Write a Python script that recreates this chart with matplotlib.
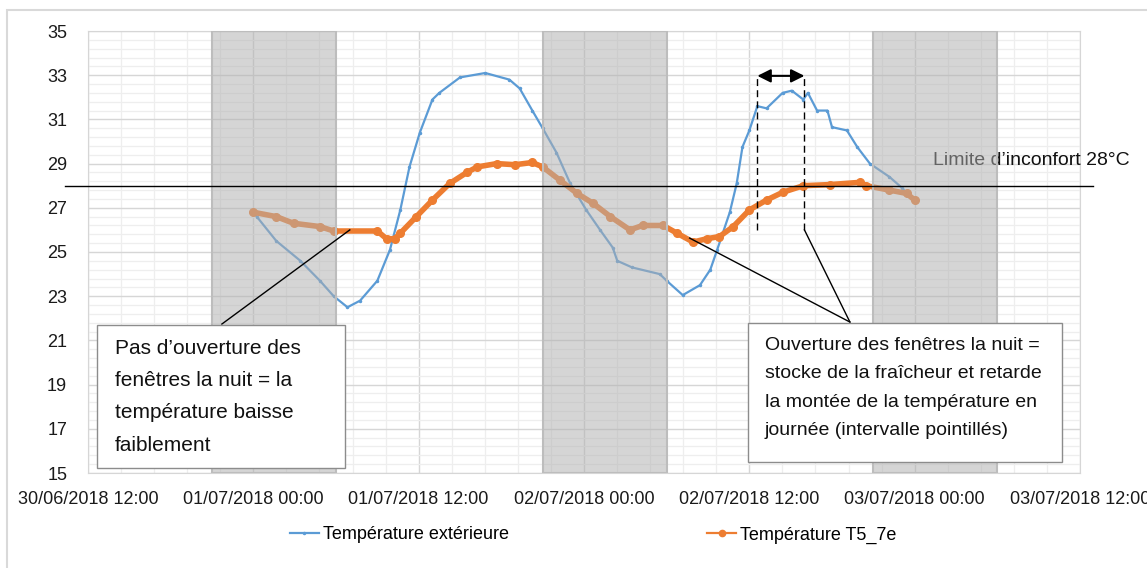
import matplotlib
matplotlib.use('Agg')
import matplotlib.pyplot as plt
import matplotlib.dates as mdates
import matplotlib.transforms as mtrans
import pandas as pd
from matplotlib.lines import Line2D
from matplotlib.patches import Rectangle
from matplotlib.ticker import MultipleLocator

plt.rcParams['font.family'] = ['Liberation Sans', 'DejaVu Sans']

# ---------------------------------------------------------------------------
# Data
ext_time = ['01/07/2018 00:00', '01/07/2018 00:15', '01/07/2018 01:40', '01/07/2018 03:25',
            '01/07/2018 04:50', '01/07/2018 05:50', '01/07/2018 06:50', '01/07/2018 07:45',
            '01/07/2018 09:00', '01/07/2018 09:55', '01/07/2018 10:40', '01/07/2018 11:20',
            '01/07/2018 12:05', '01/07/2018 13:00', '01/07/2018 13:30', '01/07/2018 15:00',
            '01/07/2018 16:50', '01/07/2018 18:35', '01/07/2018 19:20', '01/07/2018 20:15',
            '01/07/2018 21:00', '01/07/2018 22:00', '01/07/2018 23:00', '02/07/2018 00:10',
            '02/07/2018 01:10', '02/07/2018 02:05', '02/07/2018 02:25', '02/07/2018 03:30',
            '02/07/2018 05:30', '02/07/2018 06:00', '02/07/2018 07:10', '02/07/2018 08:25',
            '02/07/2018 09:10', '02/07/2018 09:40', '02/07/2018 10:35', '02/07/2018 11:05',
            '02/07/2018 11:30', '02/07/2018 12:00', '02/07/2018 12:35', '02/07/2018 13:15',
            '02/07/2018 14:25', '02/07/2018 15:05', '02/07/2018 15:55', '02/07/2018 16:15',
            '02/07/2018 16:55', '02/07/2018 17:40', '02/07/2018 18:00', '02/07/2018 19:05',
            '02/07/2018 19:50', '02/07/2018 20:45', '02/07/2018 22:10', '02/07/2018 23:05',
            '03/07/2018 00:00']
ext_temp = [26.8, 26.6, 25.5, 24.6, 23.7, 23.0, 22.5, 22.8, 23.7, 25.1, 26.9, 28.85,
            30.4, 31.9, 32.2, 32.9, 33.1, 32.8, 32.4, 31.4, 30.6, 29.5, 28.1, 26.9,
            26.0, 25.2, 24.6, 24.3, 24.0, 23.7, 23.05, 23.5, 24.2, 25.1, 26.8, 28.1,
            29.75, 30.5, 31.6, 31.5, 32.2, 32.3, 31.9, 32.2, 31.4, 31.4, 30.65, 30.5,
            29.75, 29.0, 28.4, 27.9, 27.25]

int_time = ['01/07/2018 00:00', '01/07/2018 01:40', '01/07/2018 02:55', '01/07/2018 04:50',
            '01/07/2018 05:50', '01/07/2018 09:00', '01/07/2018 09:40', '01/07/2018 10:15',
            '01/07/2018 10:40', '01/07/2018 11:50', '01/07/2018 13:00', '01/07/2018 14:15',
            '01/07/2018 15:30', '01/07/2018 16:15', '01/07/2018 17:40', '01/07/2018 19:00',
            '01/07/2018 20:15', '01/07/2018 21:00', '01/07/2018 22:15', '01/07/2018 23:30',
            '02/07/2018 00:40', '02/07/2018 01:55', '02/07/2018 03:20', '02/07/2018 04:15',
            '02/07/2018 05:45', '02/07/2018 06:45', '02/07/2018 07:55', '02/07/2018 08:55',
            '02/07/2018 09:50', '02/07/2018 10:50', '02/07/2018 12:00', '02/07/2018 13:15',
            '02/07/2018 14:25', '02/07/2018 15:55', '02/07/2018 17:50', '02/07/2018 20:00',
            '02/07/2018 20:30', '02/07/2018 22:10', '02/07/2018 23:25', '03/07/2018 00:00']
int_temp = [26.8, 26.6, 26.3, 26.15, 25.95, 25.95, 25.6, 25.6, 25.85, 26.6, 27.35, 28.1,
            28.6, 28.85, 29.0, 28.95, 29.05, 28.85, 28.25, 27.65, 27.2, 26.6, 26.0, 26.2,
            26.2, 25.85, 25.45, 25.6, 25.7, 26.15, 26.9, 27.35, 27.7, 28.0, 28.05, 28.15,
            28.0, 27.8, 27.65, 27.35]

night_start = ['30/06/2018 21:00', '01/07/2018 21:00', '02/07/2018 21:00']
night_end = ['01/07/2018 06:00', '02/07/2018 06:00', '03/07/2018 06:00']

x_range = ['30/06/2018 12:00', '03/07/2018 12:00']
comfort_limit = 28.0

label_ext = 'Température extérieure'
label_int = 'Température T5_7e'
label_limit = 'Limite d’inconfort 28°C'
note_left = 'Pas d’ouverture des\nfenêtres la nuit = la\ntempérature baisse\nfaiblement'
note_right = ('Ouverture des fenêtres la nuit =\nstocke de la fraîcheur et retarde\n'
              'la montée de la température en\njournée (intervalle pointillés)')

# delay interval (dashed lines) and leader lines
delay_start = '02/07/2018 12:35'
delay_end = '02/07/2018 16:00'
leader_left = [('30/06/2018 21:43', 21.74), ('01/07/2018 07:00', 26.0)]
leader_right = [('02/07/2018 19:18', 21.83), ('02/07/2018 07:40', 25.63),
                ('02/07/2018 16:00', 26.0)]

c_blue = '#5B9BD5'
c_orange = '#ED7D31'
W, H = 1147, 568


def toDate(sList):
    return pd.to_datetime(pd.Series(sList), format='%d/%m/%Y %H:%M')


def pxFig(x, y):
    return x / W, 1 - y / H


# ---------------------------------------------------------------------------
fig = plt.figure(figsize=(W / 100, H / 100), dpi=100)
ax = fig.add_axes([88 / W, 1 - 473 / H, (1080 - 88) / W, (473 - 31) / H])

# outer chart border
fig.patches.append(Rectangle(pxFig(7, 580), (W + 10) / W, 570 / H, transform=fig.transFigure,
                             facecolor='none', edgecolor='#d9d9d9', lw=1.5, zorder=0))

ax.plot(toDate(ext_time), ext_temp, color=c_blue, lw=1.6, marker='.', ms=3, zorder=3)
ax.plot(toDate(int_time), int_temp, color=c_orange, lw=4, marker='o', ms=5.5, zorder=3)

for s0, s1 in zip(toDate(night_start), toDate(night_end)):
    ax.axvspan(s0, s1, facecolor='#b0b0b0', alpha=0.52, edgecolor='none', zorder=4)
    ax.axvspan(s0, s1, facecolor='none', edgecolor='#bdbdbd', lw=1.5, zorder=4)

# comfort limit, extends past the plot area
trans = mtrans.blended_transform_factory(ax.transAxes, ax.transData)
ax.plot([-0.023, 1.013], [comfort_limit, comfort_limit], color='black', lw=1,
        transform=trans, clip_on=False, zorder=5)
ax.text(*pxFig(933, 160), label_limit, transform=fig.transFigure, fontsize=14,
        ha='left', va='center', color='#111111')

# delay interval
d0, d1 = toDate([delay_start, delay_end])
for d in (d0, d1):
    ax.plot([d, d], [26.0, 32.9], color='black', lw=1, ls=(0, (5, 3)), zorder=6)
ax.annotate('', xy=(d1, 32.97), xytext=(d0, 32.97),
            arrowprops=dict(arrowstyle='<|-|>', color='black', lw=1.5, mutation_scale=20,
                            shrinkA=0, shrinkB=0), zorder=6)

# leader lines
lt = toDate([p[0] for p in leader_left])
ax.plot(lt, [p[1] for p in leader_left], color='black', lw=1, clip_on=False, zorder=6)
rt = toDate([p[0] for p in leader_right])
rv = [p[1] for p in leader_right]
ax.plot([rt[0], rt[1]], [rv[0], rv[1]], color='black', lw=1, clip_on=False, zorder=6)
ax.plot([rt[0], rt[2]], [rv[0], rv[2]], color='black', lw=1, clip_on=False, zorder=6)

# note boxes
fig.patches.append(Rectangle(pxFig(97, 468), (345 - 97) / W, (468 - 325) / H,
                             transform=fig.transFigure, facecolor='white',
                             edgecolor='#8c8c8c', lw=1, zorder=2))
fig.text(*pxFig(115, 339), note_left, fontsize=15, ha='left', va='top',
         linespacing=1.88, color='#111111', zorder=3)
fig.patches.append(Rectangle(pxFig(748, 462), (1062 - 748) / W, (462 - 323) / H,
                             transform=fig.transFigure, facecolor='white',
                             edgecolor='#8c8c8c', lw=1, zorder=2))
fig.text(*pxFig(765, 337), note_right, fontsize=14, ha='left', va='top',
         linespacing=1.88, color='#111111', zorder=3)

# axes
xr = toDate(x_range)
ax.set_xlim(xr[0], xr[1])
ax.set_ylim(15, 35)
ax.xaxis.set_major_locator(MultipleLocator(0.5))
ax.xaxis.set_minor_locator(MultipleLocator(0.1))
ax.xaxis.set_major_formatter(mdates.DateFormatter('%d/%m/%Y %H:%M'))
ax.yaxis.set_major_locator(MultipleLocator(2, offset=1))
ax.yaxis.set_minor_locator(MultipleLocator(0.4, offset=0.2))
ax.grid(which='major', color='#d6d6d6', lw=1)
ax.grid(which='minor', color='#eeeeee', lw=0.9)
ax.set_axisbelow(True)
ax.tick_params(which='both', length=0)
ax.tick_params(axis='y', pad=15, labelsize=13, labelcolor='#1a1a1a')
ax.tick_params(axis='x', pad=13, labelsize=13, labelcolor='#1a1a1a')
for sp in ax.spines.values():
    sp.set_color('#d6d6d6')

# legend
hdl = [Line2D([], [], color=c_blue, lw=1.6, marker='.', ms=3),
       Line2D([], [], color=c_orange, lw=1.6, marker='o', ms=4.5)]
fig.legend(hdl, [label_ext, label_int], loc='center', bbox_to_anchor=pxFig(593, 535),
           ncol=2, frameon=False, fontsize=13, columnspacing=11, handlelength=1.6,
           handletextpad=0.2)

fig.savefig('out.png', dpi=100)
